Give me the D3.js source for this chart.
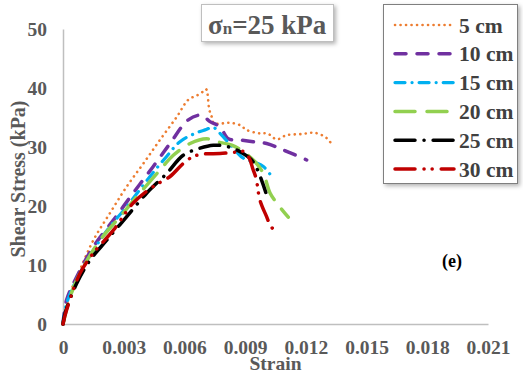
<!DOCTYPE html>
<html>
<head>
<meta charset="utf-8">
<script src="https://cdn.jsdelivr.net/npm/d3@7"></script>
<style>
  body { margin: 0; background: #fff; }
  text { font-family: "Liberation Serif", "Times New Roman", serif; font-weight: bold; }
</style>
</head>
<body>
<div id="wrapper"></div>
<script>
// data: [strain, shear stress kPa]
const s5 = [[0,0],[0.00035,5.2],[0.00084,9.2],[0.0015,14.2],[0.00232,18.8],[0.00315,23.3],[0.00397,27.2],[0.00479,31.2],[0.00562,35.1],[0.00619,38.0],[0.00665,38.8],[0.00692,39.4],[0.00707,39.8],[0.00723,36.3],[0.00735,35.1],[0.00745,34.0],[0.00785,34.0],[0.00825,34.1],[0.00875,33.7],[0.00907,32.9],[0.00973,32.3],[0.0101,32.3],[0.01056,31.3],[0.01105,32.0],[0.0118,32.2],[0.01245,32.4],[0.01303,31.5],[0.01333,30.2]];
const s10 = [[0,0],[0.00018,4.1],[0.00068,8.0],[0.0015,13.1],[0.00249,17.6],[0.00347,22.2],[0.00446,26.7],[0.00529,30.6],[0.00619,34.6],[0.00685,35.4],[0.00726,34.3],[0.00776,33.4],[0.00817,31.4],[0.00875,31.2],[0.0094,30.9],[0.01006,30.6],[0.01089,29.5],[0.01204,27.8]];
const s15 = [[0,0],[0.00018,3.5],[0.00068,7.6],[0.0015,12.5],[0.00232,16.5],[0.00315,19.9],[0.0043,25.0],[0.00512,28.4],[0.00578,30.9],[0.00652,32.3],[0.00702,32.9],[0.00743,33.3],[0.00776,32.3],[0.00834,30.1],[0.00891,28.1],[0.0094,27.5],[0.0099,26.7],[0.01031,25.0]];
const s20 = [[0,0],[0.00035,4.6],[0.00084,8.6],[0.00183,14.2],[0.00282,18.2],[0.0038,22.2],[0.00479,26.1],[0.00545,28.6],[0.00628,30.6],[0.0071,31.4],[0.00759,30.9],[0.00834,30.3],[0.00891,29.2],[0.00949,27.5],[0.0099,25.5],[0.01023,22.2],[0.01056,20.5],[0.01113,18.1]];
const s25 = [[0,0],[0.0001,1.8],[0.00068,6.9],[0.00133,10.8],[0.00216,14.2],[0.00315,18.2],[0.00414,22.2],[0.00512,25.5],[0.00594,28.6],[0.00677,29.8],[0.00743,30.3],[0.00809,30.1],[0.00875,29.2],[0.00932,27.8],[0.00965,25.8],[0.01002,22.3]];
const s30 = [[0,0],[0.00018,2.4],[0.00084,8.6],[0.0015,12.0],[0.00249,15.9],[0.00347,20.5],[0.00446,23.3],[0.00529,25.0],[0.00594,27.2],[0.00644,28.4],[0.00693,28.8],[0.00776,28.9],[0.00841,29.1],[0.00899,29.2],[0.00924,27.8],[0.00937,26.4],[0.00954,24.7],[0.00973,21.0],[0.01006,18.2],[0.01028,16.5],[0.01059,15.5]];

const seriesNames = ["5 cm", "10 cm", "15 cm", "20 cm", "25 cm", "30 cm"];
const xTicks = [0, 0.003, 0.006, 0.009, 0.012, 0.015, 0.018, 0.021];
const yTicks = [0, 10, 20, 30, 40, 50];

const dimension = {
    width: 523,
    height: 376,
    margin: { top: 29, left: 63, bottom: 52, right: 35 }
};
dimension.boundedWidth = dimension.width - dimension.margin.left - dimension.margin.right;
dimension.boundedHeight = dimension.height - dimension.margin.top - dimension.margin.bottom;

// line looks, one per series
const styles = [
    { color: "#ED7D31", width: 2.6, dash: "0.1 5.4", cap: "round" },
    { color: "#7030A0", width: 3.5, dash: "11 11", cap: "round" },
    { color: "#00B0F0", width: 3.2, dash: "10 7 0.1 7", cap: "round" },
    { color: "#92D050", width: 3.5, dash: "20 12", cap: "round" },
    { color: "#000000", width: 3.5, dash: "20 9 0.1 9", cap: "round" },
    { color: "#C00000", width: 3.5, dash: "20 9 0.1 8 0.1 9", cap: "round" }
];
const allSeries = [s5, s10, s15, s20, s25, s30];

const svg = d3.select("#wrapper").append("svg")
    .attr("width", dimension.width)
    .attr("height", dimension.height);

const defs = svg.append("defs");
defs.append("filter").attr("id", "shadow")
    .attr("x", "-10%").attr("y", "-10%").attr("width", "130%").attr("height", "140%")
  .append("feDropShadow")
    .attr("dx", 2).attr("dy", 2).attr("stdDeviation", 2)
    .attr("flood-color", "#000").attr("flood-opacity", 0.3);

const bounded = svg.append("g")
    .attr("transform", `translate(${dimension.margin.left},${dimension.margin.top})`);

const xScaler = d3.scaleLinear().domain([0, 0.021]).range([0, dimension.boundedWidth]);
const yScaler = d3.scaleLinear().domain([0, 50]).range([dimension.boundedHeight, 0]);

const xAxis = bounded.append("g")
    .attr("transform", `translate(0,${dimension.boundedHeight})`)
    .call(d3.axisBottom(xScaler).tickValues(xTicks).tickSize(0).tickPadding(16)
        .tickFormat(d => d === 0 ? "0" : d3.format(".3f")(d)));
const yAxis = bounded.append("g")
    .call(d3.axisLeft(yScaler).tickValues(yTicks).tickSize(0).tickPadding(16));

[xAxis, yAxis].forEach(a => {
    a.select(".domain").attr("stroke", "#bfbfbf").attr("stroke-width", 1.5);
    a.selectAll("text").attr("fill", "#595959").attr("font-size", 19.5)
        .attr("font-family", "Liberation Serif, serif").attr("font-weight", "bold");
});

const lineGenerator = d3.line()
    .x(d => xScaler(d[0]))
    .y(d => yScaler(d[1]))
    .curve(d3.curveCatmullRom.alpha(0.5));

allSeries.forEach((data, i) => {
    bounded.append("path")
        .attr("d", lineGenerator(data))
        .attr("fill", "none")
        .attr("stroke", styles[i].color)
        .attr("stroke-width", styles[i].width)
        .attr("stroke-dasharray", styles[i].dash)
        .attr("stroke-linecap", styles[i].cap)
        .attr("stroke-linejoin", "round");
});

// axis titles
svg.append("text")
    .attr("x", dimension.margin.left + dimension.boundedWidth / 2)
    .attr("y", 370)
    .attr("text-anchor", "middle")
    .attr("fill", "#595959")
    .attr("font-size", 19.5)
    .text("Strain");
svg.append("text")
    .attr("transform", "translate(25,179) rotate(-90)")
    .attr("text-anchor", "middle")
    .attr("fill", "#595959")
    .attr("font-size", 20)
    .text("Shear Stress (kPa)");

// (e) label
svg.append("text")
    .attr("x", 452).attr("y", 267)
    .attr("text-anchor", "middle")
    .attr("fill", "#000")
    .attr("font-size", 18)
    .text("(e)");

// title box
svg.append("rect")
    .attr("x", 201.5).attr("y", 4.5).attr("width", 132).attr("height", 37)
    .attr("fill", "#fff").attr("stroke", "#bfbfbf").attr("stroke-width", 1)
    .attr("filter", "url(#shadow)");
const title = svg.append("text")
    .attr("x", 208).attr("y", 34)
    .attr("fill", "#595959")
    .attr("font-size", 27);
title.append("tspan").text("σ");
title.append("tspan").attr("font-size", 17).text("n");
title.append("tspan").text("=25 kPa");

// legend
const legend = svg.append("g");
legend.append("rect")
    .attr("x", 383.5).attr("y", 4.5).attr("width", 134).attr("height", 179)
    .attr("fill", "#fff").attr("stroke", "#7f7f7f").attr("stroke-width", 1)
    .attr("filter", "url(#shadow)");
seriesNames.forEach((name, i) => {
    const cy = 25 + i * 28.8;
    legend.append("line")
        .attr("x1", 395).attr("x2", 454).attr("y1", cy).attr("y2", cy)
        .attr("stroke", styles[i].color)
        .attr("stroke-width", styles[i].width)
        .attr("stroke-dasharray", styles[i].dash)
        .attr("stroke-linecap", styles[i].cap);
    legend.append("text")
        .attr("x", 459).attr("y", cy + 7.5)
        .attr("fill", "#404040")
        .attr("font-size", 21.5)
        .text(name);
});
</script>
</body>
</html>
